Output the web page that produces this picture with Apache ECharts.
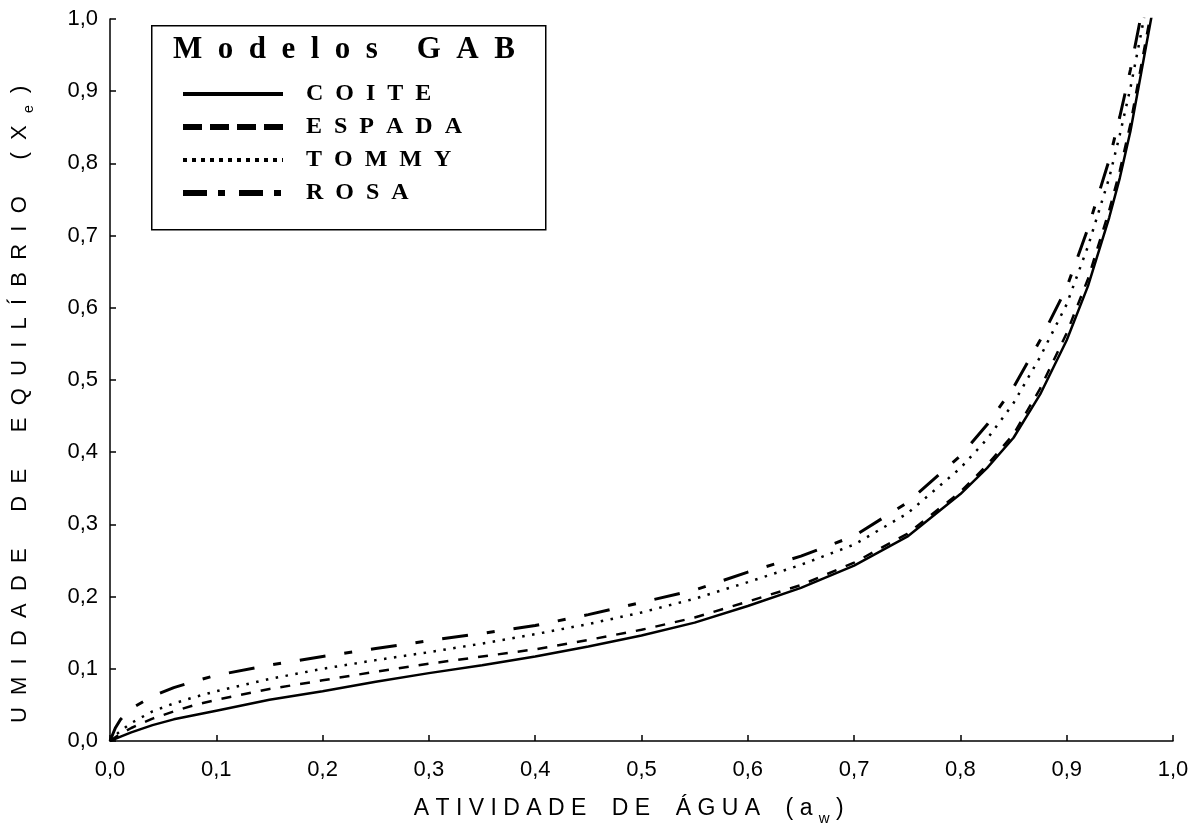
<!DOCTYPE html>
<html>
<head>
<meta charset="utf-8">
<script src="https://cdn.jsdelivr.net/npm/echarts@6/dist/echarts.min.js"></script>
<style>
html,body{margin:0;padding:0;background:#fff;}
#chart{width:1196px;height:831px;}
</style>
</head>
<body>
<div id="chart"></div>
<script>
// Water activity (x) values
var aw = [0, 0.005, 0.01, 0.02, 0.04, 0.06, 0.08, 0.1, 0.15, 0.2, 0.25, 0.3, 0.35, 0.4, 0.45, 0.5, 0.55, 0.6, 0.65, 0.7, 0.75, 0.8, 0.825, 0.85, 0.875, 0.9, 0.92, 0.94, 0.95, 0.96, 0.97, 0.975, 0.98];
// Equilibrium moisture (GAB model curves)
var coite  = [0, 0.003, 0.006, 0.012, 0.022, 0.030, 0.036, 0.042, 0.057, 0.069, 0.082, 0.094, 0.105, 0.117, 0.131, 0.146, 0.164, 0.187, 0.212, 0.243, 0.283, 0.342, 0.378, 0.420, 0.480, 0.555, 0.630, 0.725, 0.780, 0.845, 0.925, 0.965, 1.005];
var espada = [0, 0.005, 0.010, 0.018, 0.031, 0.041, 0.050, 0.057, 0.072, 0.084, 0.096, 0.107, 0.117, 0.127, 0.140, 0.154, 0.171, 0.193, 0.216, 0.247, 0.287, 0.345, 0.382, 0.425, 0.488, 0.565, 0.640, 0.735, 0.790, 0.855, 0.935, 0.975, 1.015];
var tommy  = [0, 0.008, 0.014, 0.025, 0.041, 0.052, 0.061, 0.069, 0.086, 0.100, 0.112, 0.123, 0.135, 0.148, 0.162, 0.178, 0.197, 0.220, 0.244, 0.272, 0.315, 0.378, 0.418, 0.468, 0.532, 0.605, 0.685, 0.780, 0.840, 0.905, 0.980, 1.020, 1.060];
var rosa   = [0, 0.018, 0.030, 0.045, 0.062, 0.074, 0.083, 0.091, 0.105, 0.117, 0.128, 0.139, 0.149, 0.160, 0.175, 0.192, 0.209, 0.234, 0.256, 0.284, 0.330, 0.395, 0.438, 0.490, 0.555, 0.628, 0.710, 0.805, 0.865, 0.930, 1.005, 1.045, 1.090];
var seriesNames = ['COITE', 'ESPADA', 'TOMMY', 'ROSA'];
var legendTitle = 'Modelos GAB';

function pairs(ys){ return aw.map(function(x,i){ return [x, ys[i]]; }); }
function spaced(s, sep){ return s.split('').join(sep); }

var chart = echarts.init(document.getElementById('chart'), null, {renderer:'canvas'});

var sansFont = 'Liberation Sans';
var serifFont = 'Liberation Serif';

var lineStyles = [
  {color:'#000', width:2.5, type:'solid'},
  {color:'#000', width:2.5, type:[10,10]},
  {color:'#000', width:2.5, type:[2.5,7.5]},
  {color:'#000', width:3, type:[26,19,8,19]}
];
var legendLineStyles = [
  {color:'#000', width:4, type:'solid'},
  {color:'#000', width:6, type:[19,8]},
  {color:'#000', width:4, type:[4,5]},
  {color:'#000', width:6, type:[24,11,7,14]}
];
var dataSets = [coite, espada, tommy, rosa];

var option = {
  backgroundColor:'#fff',
  animation:false,
  grid:{left:110, right:23, top:19, bottom:83, containLabel:false},
  xAxis:{
    type:'value', min:0, max:1, interval:0.1,
    name:'A T I V I D A D E    D E    Á G U A    ( a {sub|w} )    ',
    nameLocation:'middle', nameGap:51,
    nameTextStyle:{fontFamily:sansFont, fontSize:23, color:'#000',
      rich:{sub:{fontFamily:sansFont, fontSize:15, color:'#000', verticalAlign:'bottom', lineHeight:34}}},
    axisLine:{show:true, onZero:false, lineStyle:{color:'#000', width:1.5}},
    axisTick:{show:true, inside:true, length:6, lineStyle:{color:'#000', width:1.5}},
    axisLabel:{fontFamily:sansFont, fontSize:22, color:'#000', margin:18,
      formatter:function(v){ return v.toFixed(1).replace('.', ','); }},
    splitLine:{show:false}
  },
  yAxis:{
    type:'value', min:0, max:1, interval:0.1,
    name:'U  M  I  D  A  D  E      D  E      E  Q  U  I  L  Í  B  R  I  O      (  X  {sub|e}  )        ',
    nameLocation:'middle', nameGap:74, nameRotate:90,
    nameTextStyle:{fontFamily:sansFont, fontSize:22, color:'#000',
      rich:{sub:{fontFamily:sansFont, fontSize:14, color:'#000', verticalAlign:'bottom', lineHeight:32}}},
    axisLine:{show:true, onZero:false, lineStyle:{color:'#000', width:1.5}},
    axisTick:{show:true, inside:true, length:6, lineStyle:{color:'#000', width:1.5}},
    axisLabel:{fontFamily:sansFont, fontSize:22, color:'#000', margin:12,
      formatter:function(v){ return v.toFixed(1).replace('.', ','); }},
    splitLine:{show:false}
  },
  legend:{
    show:true, orient:'vertical', left:175, top:77,
    itemWidth:100, itemHeight:2, itemGap:9,
    selectedMode:false,
    data: seriesNames.map(function(n,i){
      return {name:n, lineStyle:legendLineStyles[i], itemStyle:{opacity:0, borderWidth:0}};
    }),
    formatter:function(n){ return '   ' + spaced(n, '  '); },
    textStyle:{fontFamily:serifFont, fontWeight:'bold', fontSize:24, color:'#000', lineHeight:24}
  },
  graphic:[
    {type:'rect', left:151, top:25, z:-1, shape:{width:394, height:204},
     style:{fill:'#fff', stroke:'#000', lineWidth:1.5}},
    {type:'text', left:173, top:34, z:5,
     style:{text:spaced(legendTitle.replace(' ', ''), '  ').replace('s  G', 's     G'),
       font:'bold 31px "Liberation Serif"', fill:'#000'}}
  ],
  series: seriesNames.map(function(n,i){
    return {
      name:n, type:'line', data:pairs(dataSets[i]),
      symbol:'none', showSymbol:false, smooth:false,
      clip:true, lineStyle:lineStyles[i], itemStyle:{color:'#000'},
      emphasis:{disabled:true}, silent:true
    };
  })
};
chart.setOption(option);
</script>
</body>
</html>
